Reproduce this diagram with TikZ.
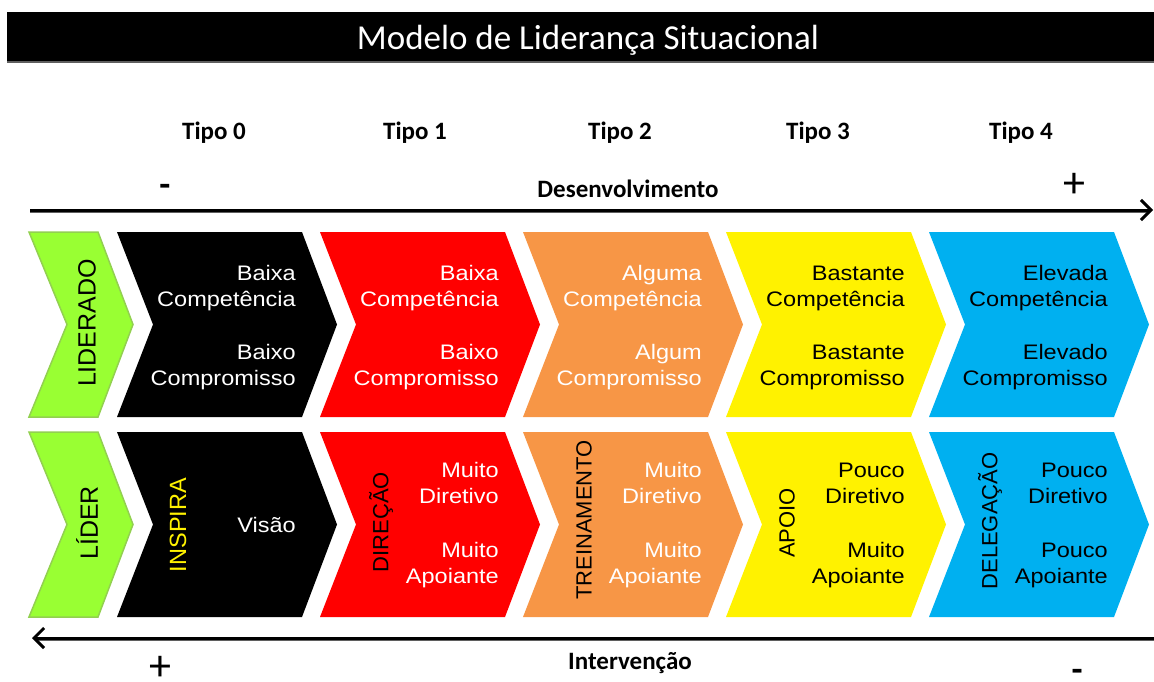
\documentclass[tikz,border=0pt]{standalone}
\usepackage{fontspec}
\usetikzlibrary{arrows.meta}
\newfontfamily\chevfont[FakeStretch=1.12]{Liberation Sans}
\newfontfamily\rolefont{Liberation Sans}
\newfontfamily\calfont{Carlito}
\definecolor{lidergreen}{RGB}{153,255,51}
\definecolor{lidergreenline}{RGB}{146,208,80}
\definecolor{chevorange}{RGB}{247,150,70}
\definecolor{chevblue}{RGB}{0,176,240}
\definecolor{axisgray}{RGB}{95,95,95}
\tikzset{
  titletxt/.style={font=\calfont\fontsize{35}{40}\selectfont, text=white},
  tipolbl/.style={font=\calfont\bfseries\fontsize{25}{30}\selectfont},
  signlbl/.style={font=\calfont\fontsize{44}{44}\selectfont, inner sep=0pt},
  minuslbl/.style={font=\calfont\bfseries\fontsize{36}{36}\selectfont, inner sep=0pt, anchor=base},
  chevtxt/.style={font=\chevfont\fontsize{21}{26}\selectfont, align=right, anchor=east, inner sep=0pt},
  rolelbl/.style={font=\rolefont\fontsize{22}{24}\selectfont, rotate=90, inner sep=0pt},
  axis/.style={line width=3pt, -{Straight Barb[length=10pt,width=20pt]}},
  axisshadow/.style={line width=2.5pt, axisgray},
}

\begin{document}
\begin{tikzpicture}[x=1pt,y=-1pt]
  \useasboundingbox (0,0) rectangle (1154,682);
  % title
  \fill[axisgray] (7,12) rectangle (1154,63);
  \fill[black] (7,12) rectangle (1154,61);
  \node[titletxt] (title) at (588,40) {Modelo de Liderança Situacional};
  % tipos
  \node[tipolbl] (tipo0) at (214,133) {Tipo 0};
  \node[tipolbl] (tipo1) at (415,133) {Tipo 1};
  \node[tipolbl] (tipo2) at (620,133) {Tipo 2};
  \node[tipolbl] (tipo3) at (818,133) {Tipo 3};
  \node[tipolbl] (tipo4) at (1021,133) {Tipo 4};
  % desenvolvimento
  \node[minuslbl] (devmenos) at (165,196) {-};
  \node[tipolbl] (dev) at (628,189) {Desenvolvimento};
  \node[signlbl] (devmais) at (1074,185) {+};
  \coordinate (devL) at (30,210);
  \coordinate (devR) at (1153,210);
  \draw[axisshadow] ([yshift=-2pt]devL) -- ([yshift=-2pt,xshift=-6pt]devR);
  \draw[axis] (devL) -- (devR);
  % chevrons
  \foreach \y in {232,432}
    \filldraw[fill=lidergreen, draw=lidergreenline, line width=1.5pt]
      (29,\y) -- ++(69,0) -- ++(35,92.5) -- ++(-35,92.5) -- ++(-69,0) -- ++(38,-92.5) -- cycle;
  \foreach \i/\col in {0/black,1/red,2/chevorange,3/yellow,4/chevblue}
    \foreach \y in {232,432}
      \fill[\col] ({117+203*\i},\y) -- ++(185,0) -- ++(35,92.5) -- ++(-35,92.5)
        -- ++(-185,0) -- ++(36,-92.5) -- cycle;
  % liderado
  \node[rolelbl, font=\rolefont\fontsize{25}{28}\selectfont] (liderado) at (87,323) {LIDERADO};
  \node[chevtxt, text=white] (nivel0) at (296,328) {Baixa\\Competência\\[27pt]Baixo\\Compromisso};
  \node[chevtxt, text=white] (nivel1) at (499,328) {Baixa\\Competência\\[27pt]Baixo\\Compromisso};
  \node[chevtxt, text=white] (nivel2) at (702,328) {Alguma\\Competência\\[27pt]Algum\\Compromisso};
  \node[chevtxt] (nivel3) at (905,328) {Bastante\\Competência\\[27pt]Bastante\\Compromisso};
  \node[chevtxt] (nivel4) at (1108,328) {Elevada\\Competência\\[27pt]Elevado\\Compromisso};
  % lider
  \node[rolelbl, font=\rolefont\fontsize{25}{28}\selectfont] (lider) at (87,523) {LÍDER};
  \node[rolelbl, font=\rolefont\fontsize{23.5}{26}\selectfont, text=yellow] (inspira) at (178,525) {INSPIRA};
  \node[chevtxt, text=white] (visao) at (296,525) {Visão};
  \node[rolelbl] (direcao) at (381,522) {DIREÇÃO};
  \node[chevtxt, text=white] (estilo1) at (499,525) {Muito\\Diretivo\\[28pt]Muito\\Apoiante};
  \node[rolelbl] (treinamento) at (584,520) {TREINAMENTO};
  \node[chevtxt, text=white] (estilo2) at (702,525) {Muito\\Diretivo\\[28pt]Muito\\Apoiante};
  \node[rolelbl] (apoio) at (787,523) {APOIO};
  \node[chevtxt] (estilo3) at (905,525) {Pouco\\Diretivo\\[28pt]Muito\\Apoiante};
  \node[rolelbl] (delegacao) at (990,521) {DELEGAÇÃO};
  \node[chevtxt] (estilo4) at (1108,525) {Pouco\\Diretivo\\[28pt]Pouco\\Apoiante};
  % intervencao
  \coordinate (intR) at (1154,638);
  \coordinate (intL) at (32,638);
  \draw[axisshadow] ([yshift=-2pt]intR) -- ([yshift=-2pt,xshift=6pt]intL);
  \draw[axis] (intR) -- (intL);
  \node[signlbl] (intmais) at (160,668) {+};
  \node[tipolbl] (int) at (630,663) {Intervenção};
  \node[minuslbl] (intmenos) at (1077,681) {-};
\end{tikzpicture}
\end{document}
